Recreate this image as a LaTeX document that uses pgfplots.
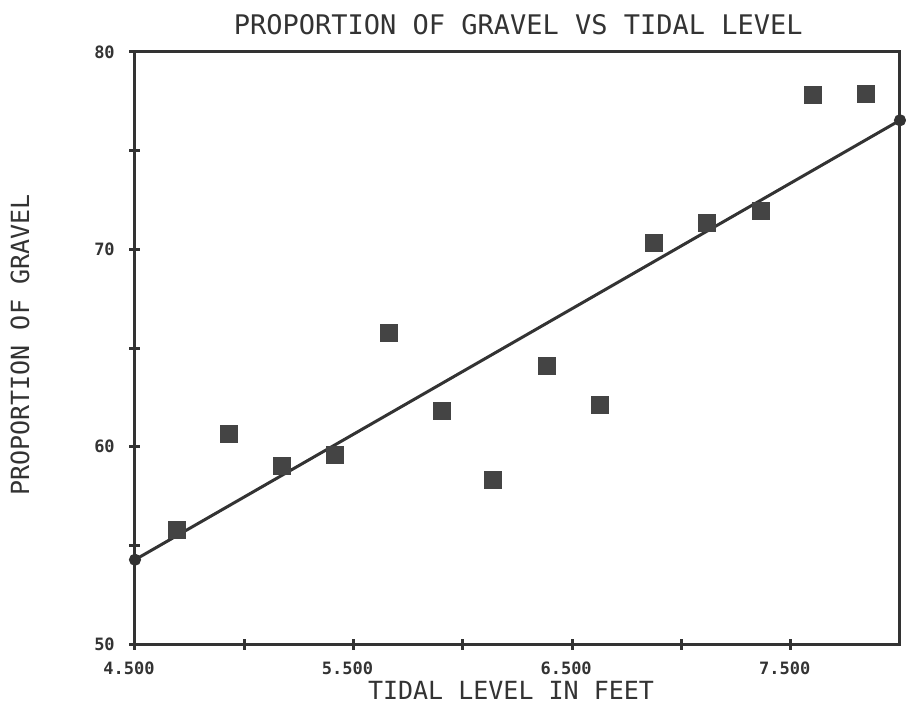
\documentclass[border=0pt]{standalone}
\usepackage{fontspec}
\setmainfont{DejaVu Sans Mono}
\usepackage{pgfplots}
\pgfplotsset{compat=1.18}
\definecolor{ink}{HTML}{333333}
\definecolor{dot}{HTML}{444444}

\begin{document}
\begin{tikzpicture}
\useasboundingbox (-135pt,-69pt) rectangle (771pt,644pt);
\begin{axis}[
  scale only axis,
  width=765pt, height=592pt,
  xmin=4.5, xmax=8.0, ymin=50, ymax=80,
  clip=false,
  axis line style={ink, line width=3pt},
  xtick={4.5,5.0,5.5,6.0,6.5,7.0,7.5},
  xticklabels={4.500,,5.500,,6.500,,7.500},
  ytick={50,55,60,65,70,75,80},
  yticklabels={50,,60,,70,,80},
  xtick pos=bottom, ytick pos=left,
  tick align=center, major tick length=11pt,
  tick style={ink, line width=3pt},
  /pgf/number format/assume math mode=true,
  xticklabel style={font=\fontsize{17}{18}\selectfont\bfseries, text=ink, anchor=center, yshift=-19pt, xshift=-6pt},
  yticklabel style={font=\fontsize{17}{18}\selectfont\bfseries, text=ink, anchor=center, xshift=-25pt},
  title={PROPORTION OF GRAVEL VS TIDAL LEVEL},
  title style={at={(axis description cs:0.501,1.036)}, anchor=center, font=\fontsize{27}{28}\selectfont, text=ink},
  xlabel={TIDAL LEVEL IN FEET},
  xlabel style={at={(axis description cs:0.4915,-0.0777)}, anchor=center, font=\fontsize{25}{26}\selectfont, text=ink},
  ylabel={PROPORTION OF GRAVEL},
  ylabel style={at={(axis description cs:-0.1503,0.505)}, anchor=center, rotate=0, font=\fontsize{25}{26}\selectfont, text=ink},
]
\addplot[only marks, mark=square*, mark size=8.5pt,
  mark options={fill=dot, draw=dot, line width=0pt, rounded corners=2.5pt}]
  coordinates {
  (4.692,55.79) (4.930,60.62) (5.174,59.01) (5.416,59.56)
  (5.662,65.78) (5.903,61.81) (6.139,58.30) (6.385,64.10)
  (6.629,62.12) (6.874,70.32) (7.115,71.33) (7.362,71.95)
  (7.604,77.80) (7.846,77.85)
  };
\addplot[ink, line width=3pt, mark=*, mark size=4.5pt, mark options={fill=ink}]
  coordinates {(4.5,54.27) (8.0,76.54)};
\end{axis}
\end{tikzpicture}
\end{document}
